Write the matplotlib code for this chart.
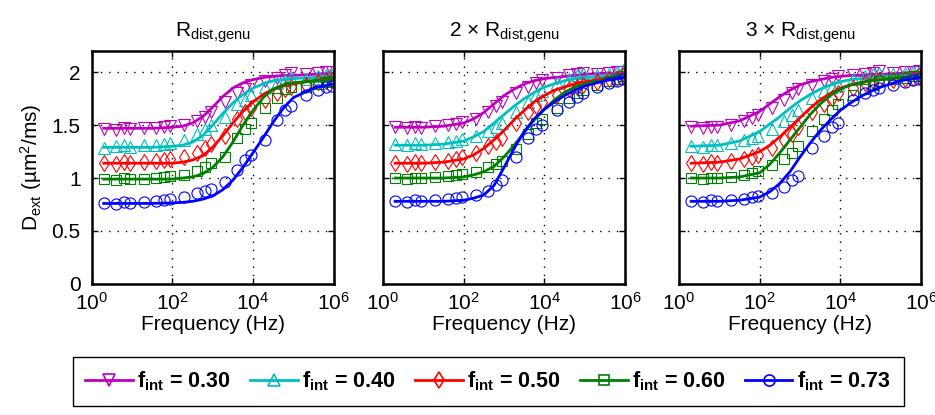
import numpy as np
import matplotlib
matplotlib.use("Agg")
import matplotlib.pyplot as plt
from matplotlib.ticker import FixedLocator, FuncFormatter, LogFormatterMathtext, NullLocator
from matplotlib.lines import Line2D

plt.rcParams['font.family'] = ['Liberation Sans', 'DejaVu Sans']
plt.rcParams['mathtext.default'] = 'regular'

# log10(frequency) where the fitted curves are sampled
fit_exp = [0.3, 1.0, 1.5, 2.0, 2.25, 2.5, 2.75, 3.0, 3.25, 3.5, 3.75, 4.0,
           4.25, 4.5, 4.75, 5.0, 5.5, 6.0]
# log10(frequency) of the measured points
pts_exp = [0.3, 0.6, 0.8, 0.95, 1.3, 1.6, 1.8, 1.95, 2.3, 2.6, 2.8, 2.95,
           3.3, 3.6, 3.8, 3.95, 4.3, 4.6, 4.8, 4.95, 5.3, 5.6, 5.8, 5.95]

f_int = ['0.30', '0.40', '0.50', '0.60', '0.73']
titles = ['R$_{dist{,}genu}$', '2 \u00d7 R$_{dist{,}genu}$', '3 \u00d7 R$_{dist{,}genu}$']

# fitted curves, order f_int = 0.30, 0.40, 0.50, 0.60, 0.73
fit_p1 = [
    [1.47, 1.47, 1.47, 1.48, 1.49, 1.52, 1.58, 1.67, 1.77, 1.85, 1.90, 1.93, 1.95, 1.96, 1.97, 1.97, 1.98, 1.99],
    [1.29, 1.29, 1.29, 1.30, 1.31, 1.34, 1.40, 1.50, 1.61, 1.71, 1.79, 1.85, 1.89, 1.92, 1.93, 1.94, 1.95, 1.96],
    [1.14, 1.14, 1.14, 1.14, 1.15, 1.17, 1.21, 1.29, 1.40, 1.52, 1.63, 1.72, 1.79, 1.84, 1.87, 1.89, 1.92, 1.94],
    [0.99, 0.99, 0.99, 0.99, 1.00, 1.01, 1.04, 1.10, 1.20, 1.34, 1.50, 1.64, 1.76, 1.84, 1.88, 1.90, 1.92, 1.93],
    [0.76, 0.76, 0.76, 0.765, 0.77, 0.78, 0.80, 0.83, 0.89, 0.98, 1.10, 1.24, 1.38, 1.53, 1.66, 1.76, 1.85, 1.89],
]
fit_p2 = [
    [1.48, 1.48, 1.49, 1.52, 1.56, 1.62, 1.70, 1.78, 1.84, 1.89, 1.92, 1.94, 1.95, 1.96, 1.97, 1.98, 1.99, 1.99],
    [1.31, 1.31, 1.32, 1.35, 1.39, 1.44, 1.52, 1.60, 1.68, 1.75, 1.81, 1.86, 1.89, 1.92, 1.94, 1.95, 1.96, 1.97],
    [1.14, 1.14, 1.15, 1.18, 1.22, 1.28, 1.36, 1.45, 1.55, 1.64, 1.72, 1.78, 1.83, 1.86, 1.89, 1.91, 1.94, 1.96],
    [1.00, 1.00, 1.00, 1.01, 1.03, 1.06, 1.11, 1.20, 1.31, 1.43, 1.55, 1.65, 1.74, 1.81, 1.86, 1.89, 1.93, 1.96],
    [0.78, 0.78, 0.78, 0.79, 0.81, 0.84, 0.93, 1.10, 1.28, 1.44, 1.56, 1.65, 1.72, 1.78, 1.83, 1.87, 1.92, 1.95],
]
fit_p3 = [
    [1.49, 1.50, 1.54, 1.63, 1.70, 1.77, 1.83, 1.88, 1.91, 1.93, 1.95, 1.96, 1.97, 1.97, 1.98, 1.98, 1.99, 2.00],
    [1.30, 1.31, 1.35, 1.44, 1.51, 1.58, 1.66, 1.73, 1.79, 1.84, 1.88, 1.91, 1.93, 1.94, 1.95, 1.96, 1.97, 1.97],
    [1.14, 1.15, 1.18, 1.25, 1.31, 1.39, 1.48, 1.57, 1.66, 1.74, 1.80, 1.85, 1.88, 1.90, 1.92, 1.93, 1.95, 1.96],
    [1.00, 1.00, 1.01, 1.05, 1.13, 1.24, 1.36, 1.48, 1.60, 1.70, 1.78, 1.84, 1.88, 1.90, 1.92, 1.93, 1.95, 1.96],
    [0.78, 0.78, 0.79, 0.82, 0.87, 0.95, 1.06, 1.20, 1.33, 1.45, 1.55, 1.64, 1.71, 1.77, 1.82, 1.86, 1.92, 1.95],
]

# measured points
pts_p1 = [
    [1.46, 1.45, 1.47, 1.46, 1.47, 1.47, 1.48, 1.49, 1.50, 1.54, 1.58, 1.62, 1.72, 1.80, 1.84, 1.88, 1.92, 1.95, 1.97, 1.99, 1.98, 1.99, 2.00, 2.00],
    [1.28, 1.30, 1.31, 1.29, 1.31, 1.31, 1.32, 1.33, 1.36, 1.42, 1.46, 1.50, 1.58, 1.70, 1.74, 1.78, 1.86, 1.90, 1.93, 1.95, 1.94, 1.96, 1.97, 1.97],
    [1.14, 1.13, 1.15, 1.14, 1.15, 1.16, 1.17, 1.18, 1.20, 1.24, 1.28, 1.32, 1.40, 1.56, 1.62, 1.66, 1.74, 1.80, 1.84, 1.86, 1.88, 1.91, 1.92, 1.93],
    [0.99, 0.98, 1.00, 0.99, 0.99, 1.00, 1.01, 1.02, 1.03, 1.07, 1.10, 1.14, 1.20, 1.38, 1.46, 1.52, 1.66, 1.76, 1.84, 1.86, 1.86, 1.89, 1.91, 1.92],
    [0.76, 0.75, 0.77, 0.76, 0.77, 0.78, 0.79, 0.80, 0.82, 0.86, 0.88, 0.90, 0.96, 1.08, 1.17, 1.22, 1.36, 1.55, 1.64, 1.68, 1.78, 1.83, 1.86, 1.87],
]
pts_p2 = [
    [1.48, 1.47, 1.48, 1.47, 1.49, 1.50, 1.51, 1.53, 1.56, 1.62, 1.68, 1.72, 1.80, 1.86, 1.90, 1.93, 1.95, 1.97, 1.98, 1.99, 1.98, 1.99, 2.00, 2.00],
    [1.32, 1.31, 1.33, 1.32, 1.33, 1.34, 1.35, 1.37, 1.40, 1.44, 1.48, 1.52, 1.62, 1.72, 1.78, 1.82, 1.90, 1.94, 1.97, 1.99, 1.97, 1.98, 2.00, 2.02],
    [1.14, 1.13, 1.15, 1.14, 1.15, 1.16, 1.18, 1.20, 1.24, 1.30, 1.34, 1.38, 1.52, 1.62, 1.68, 1.72, 1.78, 1.84, 1.86, 1.88, 1.91, 1.94, 1.95, 1.96],
    [1.00, 0.99, 1.00, 1.00, 1.01, 1.02, 1.03, 1.04, 1.06, 1.10, 1.13, 1.16, 1.27, 1.42, 1.52, 1.56, 1.66, 1.76, 1.80, 1.83, 1.88, 1.92, 1.94, 1.96],
    [0.78, 0.77, 0.79, 0.78, 0.79, 0.80, 0.81, 0.82, 0.84, 0.88, 0.93, 0.98, 1.20, 1.38, 1.46, 1.50, 1.64, 1.72, 1.77, 1.80, 1.86, 1.90, 1.92, 1.94],
]
pts_p3 = [
    [1.48, 1.47, 1.48, 1.48, 1.50, 1.54, 1.57, 1.60, 1.66, 1.74, 1.80, 1.84, 1.88, 1.92, 1.94, 1.96, 1.97, 1.98, 1.99, 2.01, 1.99, 2.00, 2.00, 2.01],
    [1.30, 1.29, 1.31, 1.31, 1.33, 1.36, 1.38, 1.40, 1.46, 1.54, 1.60, 1.64, 1.76, 1.82, 1.86, 1.88, 1.94, 1.96, 1.98, 1.99, 1.98, 1.99, 2.00, 2.00],
    [1.14, 1.13, 1.15, 1.14, 1.16, 1.18, 1.20, 1.22, 1.28, 1.36, 1.42, 1.48, 1.62, 1.70, 1.76, 1.80, 1.85, 1.90, 1.92, 1.93, 1.93, 1.94, 1.95, 1.96],
    [1.00, 0.99, 1.00, 1.00, 1.01, 1.03, 1.05, 1.07, 1.12, 1.18, 1.24, 1.30, 1.44, 1.56, 1.64, 1.70, 1.78, 1.84, 1.88, 1.92, 1.94, 1.95, 1.96, 1.96],
    [0.78, 0.77, 0.79, 0.78, 0.79, 0.80, 0.82, 0.83, 0.86, 0.92, 0.98, 1.02, 1.28, 1.40, 1.48, 1.52, 1.74, 1.80, 1.83, 1.85, 1.88, 1.91, 1.93, 1.94],
]

colors = [(0.75, 0, 0.75), (0, 0.75, 0.75), (1, 0, 0), (0, 0.5, 0), (0, 0, 1)]
markers = ['v', '^', 'd', 's', 'o']
msizes = [8, 8, 8, 7, 8]

fig = plt.figure(figsize=(9.35, 4.15), dpi=100)
lefts = [0.098, 0.4096, 0.7262]
axes = [fig.add_axes([l, 0.316, 0.259, 0.561]) for l in lefts]

fit_x = 10.0 ** np.array(fit_exp)
pts_x = 10.0 ** np.array(pts_exp)

for ax, fits, pts, title in zip(axes, [fit_p1, fit_p2, fit_p3], [pts_p1, pts_p2, pts_p3], titles):
    for i in range(5):
        ax.plot(pts_x, pts[i], linestyle='none', marker=markers[i], ms=msizes[i],
                mfc='none', mec=colors[i], mew=0.8)
        ax.plot(fit_x, fits[i], color=colors[i], lw=2)
    ax.set_xscale('log')
    ax.set_xlim(1, 1e6)
    ax.set_ylim(0, 2.2)
    ax.xaxis.set_major_locator(FixedLocator([1, 1e2, 1e4, 1e6]))
    ax.xaxis.set_minor_locator(NullLocator())
    ax.xaxis.set_major_formatter(LogFormatterMathtext())
    ax.yaxis.set_major_locator(FixedLocator([0, 0.5, 1, 1.5, 2]))
    ax.yaxis.set_major_formatter(FuncFormatter(lambda v, p: '%g' % v))
    ax.grid(True, linestyle=(0, (1, 5)), color='k', linewidth=1.0)
    ax.tick_params(direction='in', length=4, width=1, labelsize=15, pad=6,
                   top=True, right=True)
    ax.tick_params(axis='y', pad=8)
    for s in ax.spines.values():
        s.set_linewidth(1.8)
    ax.set_xlabel('Frequency (Hz)', fontsize=15, labelpad=1)
    ax.set_title(title, fontsize=15, pad=10)

for ax in axes[1:]:
    ax.tick_params(labelleft=False)
axes[0].set_ylabel('D$_{ext}$ (\u00b5m$^2$/ms)', fontsize=15, labelpad=5)

handles = [Line2D([], [], color=colors[i], lw=2, marker=markers[i], ms=msizes[i],
                  mfc='none', mec=colors[i], mew=1.2) for i in range(5)]
labels = ['f$_{int}$ = ' + f for f in f_int]
leg = fig.legend(handles, labels, ncol=5, loc='lower center', bbox_to_anchor=(0.522, 0.0),
                 prop={'weight': 'bold', 'size': 15.5}, fancybox=False, edgecolor='k',
                 handlelength=2.2, handletextpad=0.2, columnspacing=0.9,
                 borderpad=0.6, borderaxespad=0.4, framealpha=1)
leg.get_frame().set_linewidth(1.0)

fig.savefig('out.png', dpi=100)
